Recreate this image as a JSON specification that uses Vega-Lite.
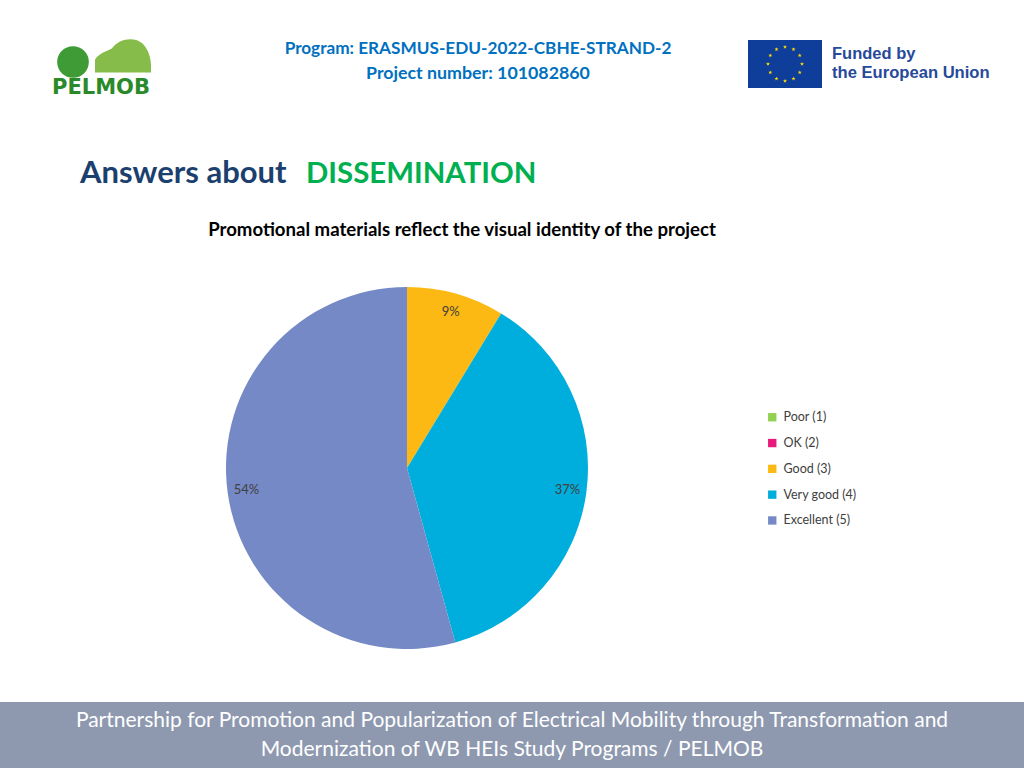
{
  "$schema": "https://vega.github.io/schema/vega-lite/v6.json",
  "autosize": "none",
  "width": 814,
  "height": 362,
  "padding": {"left": 0, "top": 287, "right": 210, "bottom": 119},
  "background": "white",
  "config": {
    "view": {"stroke": null},
    "legend": {
      "orient": "none",
      "legendX": 766,
      "legendY": 124,
      "symbolType": "square",
      "symbolSize": 70,
      "symbolStrokeWidth": 0,
      "labelFont": "Lato",
      "labelFontSize": 12.5,
      "labelColor": "#404040",
      "rowPadding": 12.8,
      "labelOffset": 5,
      "padding": 0
    }
  },
  "data": {
    "values": [
      {"answer": "Poor (1)", "rank": 1, "pct": 0},
      {"answer": "OK (2)", "rank": 2, "pct": 0},
      {"answer": "Good (3)", "rank": 3, "pct": 0.087},
      {"answer": "Very good (4)", "rank": 4, "pct": 0.37},
      {"answer": "Excellent (5)", "rank": 5, "pct": 0.543}
    ]
  },
  "layer": [
    {
      "mark": {"type": "arc"},
      "encoding": {
        "theta": {"field": "pct", "type": "quantitative", "stack": true},
        "order": {"field": "rank", "type": "quantitative"},
        "color": {
          "field": "answer",
          "type": "nominal",
          "title": null,
          "scale": {
            "domain": ["Poor (1)", "OK (2)", "Good (3)", "Very good (4)", "Excellent (5)"],
            "range": ["#92D050", "#E7197A", "#FDB913", "#00AEDD", "#7589C6"]
          }
        }
      }
    },
    {
      "transform": [{"filter": "datum.pct > 0"}],
      "mark": {"type": "text", "radius": 162, "font": "Lato", "fontSize": 13, "color": "#404040"},
      "encoding": {
        "theta": {"field": "pct", "type": "quantitative", "stack": true},
        "order": {"field": "rank", "type": "quantitative"},
        "text": {"field": "pct", "type": "quantitative", "format": ".0%"}
      }
    },
    {
      "data": {"values": [{}]},
      "mark": {"type": "text", "font": "Lato", "fontSize": 18.6, "fontWeight": "bold", "color": "#000000", "align": "center", "baseline": "middle"},
      "encoding": {"x": {"value": 462}, "y": {"value": -57}, "text": {"value": "Promotional materials reflect the visual identity of the project"}}
    },
    {
      "data": {"values": [{}]},
      "mark": {"type": "text", "font": "Lato", "fontSize": 17.2, "fontWeight": "bold", "color": "#0070C0", "align": "center", "baseline": "middle"},
      "encoding": {"x": {"value": 478}, "y": {"value": -238}, "text": {"value": "Program: ERASMUS-EDU-2022-CBHE-STRAND-2"}}
    },
    {
      "data": {"values": [{}]},
      "mark": {"type": "text", "font": "Lato", "fontSize": 17.8, "fontWeight": "bold", "color": "#0070C0", "align": "center", "baseline": "middle"},
      "encoding": {"x": {"value": 478}, "y": {"value": -213}, "text": {"value": "Project number: 101082860"}}
    },
    {
      "data": {"values": [{}]},
      "mark": {"type": "rect", "color": "#0F3D9A"},
      "encoding": {"x": {"value": 748}, "x2": {"value": 822}, "y": {"value": -247}, "y2": {"value": -199}}
    },
    {
      "data": {"values": [{}]},
      "mark": {
        "type": "point",
        "filled": true,
        "color": "#FFDD00",
        "opacity": 1,
        "size": 1806,
        "shape": "M0 -0.9 l0.0235 0.0676 l0.0716 0.0015 l-0.0571 0.0433 l0.0208 0.0685 l-0.0588 -0.0409 l-0.0588 0.0409 l0.0208 -0.0685 l-0.0571 -0.0433 l0.0716 -0.0015 z M0.4 -0.793 l0.0235 0.0676 l0.0716 0.0015 l-0.0571 0.0433 l0.0208 0.0685 l-0.0588 -0.0409 l-0.0588 0.0409 l0.0208 -0.0685 l-0.0571 -0.0433 l0.0716 -0.0015 z M0.693 -0.5 l0.0235 0.0676 l0.0716 0.0015 l-0.0571 0.0433 l0.0208 0.0685 l-0.0588 -0.0409 l-0.0588 0.0409 l0.0208 -0.0685 l-0.0571 -0.0433 l0.0716 -0.0015 z M0.8 -0.1 l0.0235 0.0676 l0.0716 0.0015 l-0.0571 0.0433 l0.0208 0.0685 l-0.0588 -0.0409 l-0.0588 0.0409 l0.0208 -0.0685 l-0.0571 -0.0433 l0.0716 -0.0015 z M0.693 0.3 l0.0235 0.0676 l0.0716 0.0015 l-0.0571 0.0433 l0.0208 0.0685 l-0.0588 -0.0409 l-0.0588 0.0409 l0.0208 -0.0685 l-0.0571 -0.0433 l0.0716 -0.0015 z M0.4 0.593 l0.0235 0.0676 l0.0716 0.0015 l-0.0571 0.0433 l0.0208 0.0685 l-0.0588 -0.0409 l-0.0588 0.0409 l0.0208 -0.0685 l-0.0571 -0.0433 l0.0716 -0.0015 z M0 0.7 l0.0235 0.0676 l0.0716 0.0015 l-0.0571 0.0433 l0.0208 0.0685 l-0.0588 -0.0409 l-0.0588 0.0409 l0.0208 -0.0685 l-0.0571 -0.0433 l0.0716 -0.0015 z M-0.4 0.593 l0.0235 0.0676 l0.0716 0.0015 l-0.0571 0.0433 l0.0208 0.0685 l-0.0588 -0.0409 l-0.0588 0.0409 l0.0208 -0.0685 l-0.0571 -0.0433 l0.0716 -0.0015 z M-0.693 0.3 l0.0235 0.0676 l0.0716 0.0015 l-0.0571 0.0433 l0.0208 0.0685 l-0.0588 -0.0409 l-0.0588 0.0409 l0.0208 -0.0685 l-0.0571 -0.0433 l0.0716 -0.0015 z M-0.8 -0.1 l0.0235 0.0676 l0.0716 0.0015 l-0.0571 0.0433 l0.0208 0.0685 l-0.0588 -0.0409 l-0.0588 0.0409 l0.0208 -0.0685 l-0.0571 -0.0433 l0.0716 -0.0015 z M-0.693 -0.5 l0.0235 0.0676 l0.0716 0.0015 l-0.0571 0.0433 l0.0208 0.0685 l-0.0588 -0.0409 l-0.0588 0.0409 l0.0208 -0.0685 l-0.0571 -0.0433 l0.0716 -0.0015 z M-0.4 -0.793 l0.0235 0.0676 l0.0716 0.0015 l-0.0571 0.0433 l0.0208 0.0685 l-0.0588 -0.0409 l-0.0588 0.0409 l0.0208 -0.0685 l-0.0571 -0.0433 l0.0716 -0.0015 z"
      },
      "encoding": {"x": {"value": 785}, "y": {"value": -223}}
    },
    {
      "data": {"values": [{}]},
      "mark": {"type": "text", "font": "Liberation Sans", "fontSize": 16.5, "fontWeight": "bold", "color": "#27499A", "align": "left", "baseline": "alphabetic"},
      "encoding": {"x": {"value": 832}, "y": {"value": -228}, "text": {"value": "Funded by"}}
    },
    {
      "data": {"values": [{}]},
      "mark": {"type": "text", "font": "Liberation Sans", "fontSize": 16.6, "fontWeight": "bold", "color": "#27499A", "align": "left", "baseline": "alphabetic"},
      "encoding": {"x": {"value": 832}, "y": {"value": -209}, "text": {"value": "the European Union"}}
    },
    {
      "data": {"values": [{}]},
      "mark": {
        "type": "point",
        "filled": true,
        "color": "#86BC4A",
        "opacity": 1,
        "size": 3136,
        "shape": "M-1 0.55 L-1 0.1 C-0.9 -0.1 -0.6 -0.2 -0.4 -0.3 C-0.2 -0.6 0.2 -0.7 0.5 -0.6 C0.8 -0.5 1 -0.1 1 0.3 L1 0.55 Z"
      },
      "encoding": {"x": {"value": 123}, "y": {"value": -230}}
    },
    {
      "data": {"values": [{}]},
      "mark": {"type": "point", "filled": true, "color": "#3E9B35", "opacity": 1, "size": 1000, "shape": "circle"},
      "encoding": {"x": {"value": 73}, "y": {"value": -225}}
    },
    {
      "data": {"values": [{}]},
      "mark": {"type": "text", "font": "DejaVu Sans", "fontSize": 21, "fontWeight": "bold", "color": "#2A8A2A", "align": "center", "baseline": "middle"},
      "encoding": {"x": {"value": 101}, "y": {"value": -199}, "text": {"value": "PELMOB"}}
    },
    {
      "data": {"values": [{}]},
      "mark": {"type": "text", "font": "Lato", "fontSize": 31, "fontWeight": "bold", "color": "#1B3F6E", "align": "left", "baseline": "alphabetic"},
      "encoding": {"x": {"value": 80}, "y": {"value": -104}, "text": {"value": "Answers about"}}
    },
    {
      "data": {"values": [{}]},
      "mark": {"type": "text", "font": "Lato", "fontSize": 29.4, "fontWeight": "bold", "color": "#00B050", "align": "left", "baseline": "alphabetic"},
      "encoding": {"x": {"value": 306}, "y": {"value": -104}, "text": {"value": "DISSEMINATION"}}
    },
    {
      "data": {"values": [{}]},
      "mark": {"type": "rect", "color": "#8E99B0"},
      "encoding": {"x": {"value": 0}, "x2": {"value": 1024}, "y": {"value": 415}, "y2": {"value": 481}}
    },
    {
      "data": {"values": [{}]},
      "mark": {"type": "text", "font": "Lato", "fontSize": 21, "color": "#FFFFFF", "align": "center", "baseline": "middle"},
      "encoding": {"x": {"value": 512}, "y": {"value": 434}, "text": {"value": "Partnership for Promotion and Popularization of Electrical Mobility through Transformation and"}}
    },
    {
      "data": {"values": [{}]},
      "mark": {"type": "text", "font": "Lato", "fontSize": 21, "color": "#FFFFFF", "align": "center", "baseline": "middle"},
      "encoding": {"x": {"value": 512}, "y": {"value": 463}, "text": {"value": "Modernization of WB HEIs Study Programs / PELMOB"}}
    }
  ]
}
